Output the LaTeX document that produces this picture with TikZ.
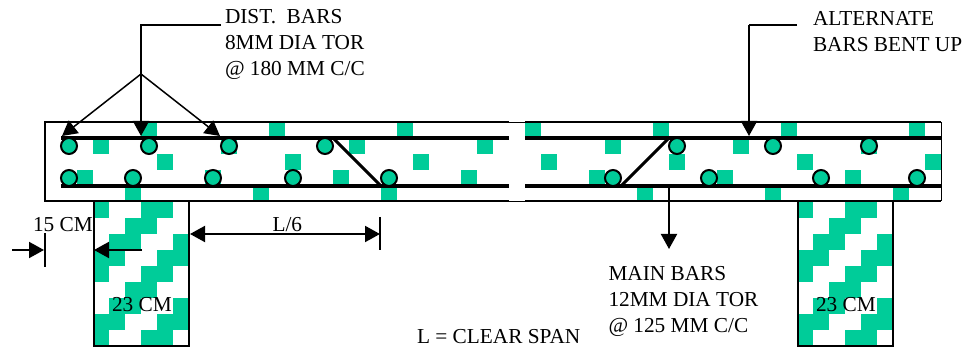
\documentclass[tikz,border=0pt]{standalone}
\usepackage{fontspec}
\setmainfont{Liberation Serif}
\usetikzlibrary{arrows.meta}
\definecolor{rebar}{HTML}{00CC99}
\tikzset{
  sq/.style={fill=rebar,draw=none},
  heavybar/.style={line width=4pt,draw=black},
  bentbar/.style={line width=3pt,draw=black},
  outline/.style={line width=2pt,draw=black},
  hairline/.style={line width=0.5pt,draw=black},
  leader/.style={line width=2pt,draw=black},
  dimline/.style={line width=2pt,draw=black},
  arrowline/.style={line width=2pt,draw=black,-{Triangle[length=15pt,width=16pt]}},
  tinyarrow/.style={line width=1.5pt,draw=black,-{Triangle[length=15pt,width=16pt]}},
  barcircle/.style={circle,draw=black,fill=rebar,line width=2pt,minimum size=16pt,inner sep=0pt},
  lab/.style={inner sep=0pt,outer sep=0pt,align=left,anchor=north west,font=\fontsize{21.3pt}{26pt}\selectfont},
  lab1/.style={inner sep=0pt,outer sep=0pt,anchor=base west,font=\fontsize{21.3pt}{26pt}\selectfont},
}
\begin{document}
\begin{tikzpicture}[x=1pt,y=-1pt]
\useasboundingbox (0,0) rectangle (972,352);
\fill[white] (0,0) rectangle (972,352);
% beam squares
\foreach \x in {141,269,397,525,653,781,909}{\fill[sq] (\x,123) rectangle ++(16,15);}
\foreach \x in {93,221,349,477,605,733,861}{\fill[sq] (\x,138) rectangle ++(16,16);}
\foreach \x in {157,285,413,541,669,797,925}{\fill[sq] (\x,154) rectangle ++(16,16);}
\foreach \x in {77,205,333,461,589,717,845}{\fill[sq] (\x,170) rectangle ++(16,16);}
\foreach \x in {125,253,381,637,765,893}{\fill[sq] (\x,186) rectangle ++(16,16);}
% column squares
\foreach \ox in {0,704}{
 \foreach \oy in {0,64,128}{
  \fill[sq] (93+\ox,202+\oy) rectangle ++(16,16);
  \fill[sq] (141+\ox,202+\oy) rectangle ++(32,16);
 }
 \foreach \oy in {0,64}{
  \fill[sq] (125+\ox,218+\oy) rectangle ++(32,16);
  \fill[sq] (109+\ox,234+\oy) rectangle ++(32,16);
  \fill[sq] (173+\ox,234+\oy) rectangle ++(16,16);
  \fill[sq] (93+\ox,250+\oy) rectangle ++(32,16);
  \fill[sq] (157+\ox,250+\oy) rectangle ++(32,16);
 }
}
% named points
\coordinate (bl1) at (61,138); \coordinate (bl2) at (509,138);
\coordinate (bl3) at (61,186); \coordinate (bl4) at (509,186);
\coordinate (br1) at (525,138); \coordinate (br2) at (941,138);
\coordinate (br3) at (525,186); \coordinate (br4) at (941,186);
\coordinate (bentLa) at (333,138); \coordinate (bentLb) at (381,186);
\coordinate (bentRa) at (669,138); \coordinate (bentRb) at (621,186);
% beam outline
\draw[outline] (509,122) -- (45,122) -- (45,201.5) -- (509,201.5);
\draw[outline] (525,122) -- (941,122);
\draw[outline] (525,201.5) -- (941,201.5);
\draw[line width=1pt] (941,122) -- (941,201.5);
\draw[hairline] (509,122) -- (525,122);
\draw[hairline] (509,201.5) -- (525,201.5);
% columns
\draw[outline] (93.5,202) -- (93.5,346) -- (189,346) -- (189,202);
\draw[outline] (797.5,202) -- (797.5,346) -- (893,346) -- (893,202);
% bars
\draw[heavybar] (bl1) -- (bl2);
\draw[heavybar] (bl3) -- (bl4);
\draw[heavybar] (br1) -- (br2);
\draw[heavybar] (br3) -- (br4);
\draw[bentbar] (bentLa) -- (bentLb);
\draw[bentbar] (bentRa) -- (bentRb);
% circles
\foreach \i/\x in {1/69,2/149,3/229,4/325,5/677,6/773,7/869}{\node[barcircle] (t\i) at (\x,146) {};}
\foreach \i/\x in {1/69,2/133,3/213,4/293,5/389,6/613,7/709,8/821,9/917}{\node[barcircle] (u\i) at (\x,178) {};}
% labels
\node[lab] (dist) at (225,9.5) {DIST.\ \ BARS\\8MM DIA TOR\\@ 180 MM C/C};
\node[lab] (alt) at (813,11.7) {ALTERNATE\\BARS BENT UP};
\node[lab] (main) at (608.5,266.7) {MAIN BARS\\12MM DIA TOR\\@ 125 MM C/C};
\node[lab1] (span) at (417,344) {L = CLEAR SPAN};
\node[lab1] (cm15) at (33,232) {15 CM};
\node[lab1] (l6) at (272.5,232) {L/6};
\node[lab1] (cm23a) at (112,312) {23 CM};
\node[lab1] (cm23b) at (816,312) {23 CM};
% leaders
\coordinate (d0) at (221,25); \coordinate (d1) at (141,25); \coordinate (d2) at (141,74);
\coordinate (dt1) at (62,136); \coordinate (dt2) at (141,136); \coordinate (dt3) at (220,136);
\draw[leader] (d0) -- (d1) -- (d2);
\draw[arrowline] (d2) -- (dt2);
\draw[tinyarrow] (d2) -- (dt1);
\draw[tinyarrow] (d2) -- (dt3);
\coordinate (a0) at (797,25); \coordinate (a1) at (749,25); \coordinate (at) at (749,136);
\draw[leader] (a0) -- (a1);
\draw[arrowline] (a1) -- (at);
\coordinate (m0) at (669,188); \coordinate (mt) at (669,249);
\draw[arrowline] (m0) -- (mt);
% dimensions
\coordinate (t0) at (380,217); \coordinate (t1) at (380,250);
\draw[dimline] (t0) -- (t1);
\coordinate (ld) at (190,234); \coordinate (rd) at (380,234);
\draw[dimline,{Triangle[length=15pt,width=16pt]}-{Triangle[length=15pt,width=16pt]}] (ld) -- (rd);
\coordinate (c0) at (45,233); \coordinate (c1) at (45,267);
\draw[dimline] (c0) -- (c1);
\coordinate (s0) at (12,250); \coordinate (s1) at (44,250);
\draw[arrowline] (s0) -- (s1);
\coordinate (e0) at (142,250); \coordinate (e1) at (94,250);
\draw[arrowline] (e0) -- (e1);
\end{tikzpicture}
\end{document}
